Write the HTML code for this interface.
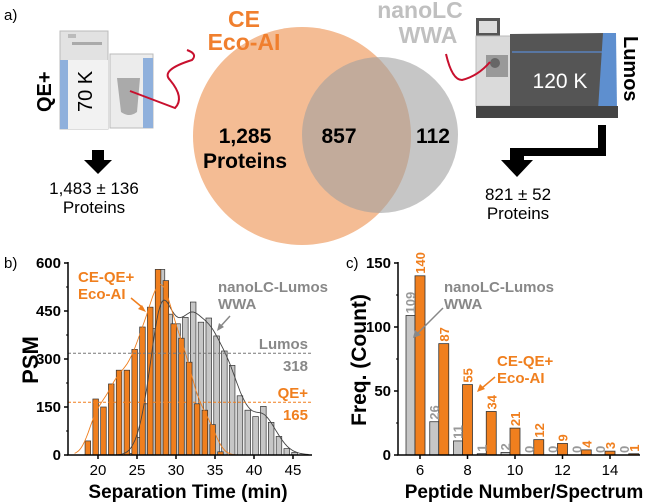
<!DOCTYPE html>
<html><head><meta charset="utf-8">
<style>
body{margin:0;background:#fff;}
svg{display:block;font-family:"Liberation Sans",Arial,sans-serif;}
</style></head><body>
<svg id="fig" width="652" height="502" viewBox="0 0 652 502" xmlns="http://www.w3.org/2000/svg">
<g>
<text x="4" y="20" font-size="15">a)</text>
<circle cx="302" cy="136" r="109" fill="#f4bc94"/>
<circle cx="380" cy="135" r="78" fill="#a0a0a0" fill-opacity="0.6"/>
<text x="244" y="27" text-anchor="middle" font-size="23" font-weight="bold" fill="#f07f2e">CE</text>
<text x="244" y="50" text-anchor="middle" font-size="23" font-weight="bold" fill="#f07f2e">Eco-AI</text>
<text x="420" y="18" text-anchor="middle" font-size="23" font-weight="bold" fill="#c0c0c0">nanoLC</text>
<text x="428" y="43" text-anchor="middle" font-size="23" font-weight="bold" fill="#c0c0c0">WWA</text>
<text x="245" y="143" text-anchor="middle" font-size="21" font-weight="bold">1,285</text>
<text x="245" y="168" text-anchor="middle" font-size="21" font-weight="bold">Proteins</text>
<text x="339" y="143" text-anchor="middle" font-size="21" font-weight="bold">857</text>
<text x="433" y="143" text-anchor="middle" font-size="21" font-weight="bold">112</text>
<g>
<rect x="60" y="31" width="48" height="98" fill="#e2e2e2" stroke="#bbb"/>
<rect x="60" y="60" width="48" height="69" fill="#f2f2f2"/>
<rect x="60" y="60" width="8" height="69" fill="#8fb0dc"/>
<rect x="68" y="34" width="8" height="4" fill="#bbb"/>
<rect x="72" y="42" width="30" height="3" fill="#aaa"/>
<rect x="110" y="54" width="43" height="74" fill="#ececec" stroke="#bbb"/>
<rect x="143" y="58" width="10" height="70" fill="#8fb0dc"/>
<path d="M117 78 L140 78 L137 112 Q129 118 121 112 Z" fill="#aaa"/>
<text transform="translate(92,112) rotate(-90)" font-size="20">70 K</text>
<text transform="translate(51,112) rotate(-90)" font-size="20" font-weight="bold">QE+</text>
<path d="M130 91 L175 108 Q185 98 170 80 Q160 70 192 60 Q198 54 187 50" stroke="#c8102e" stroke-width="2" fill="none"/>
</g>
<path d="M92 150 L104 150 L104 160 L112 160 L98 174 L84 160 L92 160 Z" fill="#000"/>
<text x="94" y="194" text-anchor="middle" font-size="17">1,483 ± 136</text>
<text x="94" y="213" text-anchor="middle" font-size="17">Proteins</text>
<g>
<rect x="476" y="18" width="24" height="18" fill="#555"/>
<rect x="479" y="21" width="18" height="12" fill="#ddd"/>
<rect x="476" y="36" width="46" height="70" fill="#dadada" stroke="#bbb"/>
<rect x="486" y="55" width="22" height="22" fill="#999"/>
<circle cx="495" cy="63" r="5" fill="#666"/>
<path d="M510 34 L605 33 L600 110 L510 108 Z" fill="#555"/>
<line x1="512" y1="52" x2="603" y2="52" stroke="#5b8ad0" stroke-width="1.2"/>
<path d="M603 33 L616 33 L617 110 L598 110 Z" fill="#5e8fcf"/>
<rect x="476" y="106" width="142" height="12" fill="#444"/>
<text x="560" y="88" text-anchor="middle" font-size="21" fill="#fff">120 K</text>
<text transform="translate(624,36) rotate(90)" font-size="20" font-weight="bold">Lumos</text>
<path d="M446 54 Q452 80 462 80 Q478 76 490 62" stroke="#c8102e" stroke-width="2" fill="none"/>
</g>
<path d="M598 125 L606 125 L606 156 L524 156 L524 160 L533 160 L517 177 L501 160 L510 160 L510 148 L598 148 Z" fill="#000"/>
<text x="518" y="200" text-anchor="middle" font-size="17">821 ± 52</text>
<text x="518" y="219" text-anchor="middle" font-size="17">Proteins</text>
</g>
<g id="pb"></g>
<g id="pc"></g>
</svg>
<script>
// Panel b data
const bMinutes = [17,18,19,20,21,22,23,24,25,26,27,28,29,30,31,32,33,34,35,36,37,38,39,40,41,42,43,44,45,46];
const bCE = [0,0,44,175,150,222,265,265,330,400,462,580,545,410,365,290,160,140,95,10,0,0,0,0,0,0,0,0,0,0];
const bLC = [0,0,0,0,0,0,0,5,55,160,395,580,440,410,430,478,415,428,372,325,280,185,140,120,152,102,58,20,8,0];
const bYTicks = [0,150,300,450,600];
const bXTicks = [20,25,30,35,40,45];
const bMeans = [318,165];
// Panel c data
const cCats = [6,7,8,9,10,11,12,13,14,15];
const cCE = [140,87,55,34,21,12,9,4,3,1];
const cLC = [109,26,11,1,2,0,0,0,0,0];
const cYTicks = [0,50,100,150];
const cXTicks = [6,8,10,12,14];

const NS="http://www.w3.org/2000/svg";
function mk(parent,tag,attrs,text){const e=document.createElementNS(NS,tag);for(const k in attrs)e.setAttribute(k,attrs[k]);if(text!==undefined)e.textContent=text;parent.appendChild(e);return e;}
const OR="#f07f1e", GR="#c6c6c6";

// ---- Panel b ----
const pb=document.getElementById('pb');
const bx=v=>98+(v-20)*7.8, by=v=>455-v*(192/600);
let t=mk(pb,'text',{x:4,y:268,'font-size':15},'b)');


bMinutes.forEach((m,i)=>{ if(bLC[i]>0){const r=mk(pb,'rect',{x:bx(m+0.2)-2.8,y:by(bLC[i]),width:5.6,height:455-by(bLC[i]),fill:GR,stroke:'#333','stroke-width':0.7});

}});
bMinutes.forEach((m,i)=>{ if(bCE[i]>0){const r=mk(pb,'rect',{x:bx(m-0.3)-2.8,y:by(bCE[i]),width:5.6,height:455-by(bCE[i]),fill:OR,stroke:'#333','stroke-width':0.7});

}});
function smooth(vals,off){let d='';for(let s=17;s<=47;s+=0.25){let num=0,den=0;bMinutes.forEach((m,i)=>{const w=Math.exp(-Math.pow(s-(m+off),2)/(2*0.9*0.9));num+=w*vals[i];den+=w;});const v=num/den;d+=(d?'L':'M')+bx(s).toFixed(1)+' '+by(v).toFixed(1);}return d;}
let c1=mk(pb,'path',{d:smooth(bLC,0.2),fill:'none',stroke:'#444','stroke-width':0.9});


let c2=mk(pb,'path',{d:smooth(bCE,-0.3),fill:'none',stroke:OR,'stroke-width':0.9});


let m1=mk(pb,'line',{x1:68,x2:312,y1:by(bMeans[0]),y2:by(bMeans[0]),stroke:'#777','stroke-dasharray':'3,2','stroke-width':1});


let m2=mk(pb,'line',{x1:68,x2:312,y1:by(bMeans[1]),y2:by(bMeans[1]),stroke:OR,'stroke-dasharray':'3,2','stroke-width':1});


[['Lumos',308,by(bMeans[0])-4,'#888','lumos-mean-label'],[String(bMeans[0]),308,by(bMeans[0])+18,'#888','lumos-mean-value'],['QE+',308,by(bMeans[1])-4,OR,'qe-mean-label'],[String(bMeans[1]),308,by(bMeans[1])+18,OR,'qe-mean-value']].forEach(a=>{const e=mk(pb,'text',{x:a[1],y:a[2],'text-anchor':'end','font-size':15,'font-weight':'bold',fill:a[3]},a[0]);

});
mk(pb,'path',{d:'M68 262 L68 455 L312 455',fill:'none',stroke:'#000','stroke-width':1.5});
bYTicks.forEach(v=>{mk(pb,'line',{x1:64,x2:68,y1:by(v),y2:by(v),stroke:'#000','stroke-width':1.5});
const e=mk(pb,'text',{x:61,y:by(v)+5,'text-anchor':'end','font-size':15,'font-weight':'bold'},v);

});
for(let v=75;v<600;v+=150) mk(pb,'line',{x1:66,x2:68,y1:by(v),y2:by(v),stroke:'#000','stroke-width':1});
bXTicks.forEach(v=>{mk(pb,'line',{x1:bx(v),x2:bx(v),y1:455,y2:459,stroke:'#000','stroke-width':1.5});
const e=mk(pb,'text',{x:bx(v),y:475,'text-anchor':'middle','font-size':15},v);

});
t=mk(pb,'text',{x:188,y:498,'text-anchor':'middle','font-size':19,'font-weight':'bold'},'Separation Time (min)');


t=mk(pb,'text',{transform:'translate(38,360) rotate(-90)','text-anchor':'middle','font-size':22,'font-weight':'bold'},'PSM');


[['CE-QE+',78,282,OR],['Eco-AI',78,299,OR],['nanoLC-Lumos',218,292,'#888'],['WWA',218,309,'#888']].forEach((a,i)=>{const e=mk(pb,'text',{x:a[1],y:a[2],'font-size':15,'font-weight':'bold',fill:a[3]},a[0]);

});
mk(pb,'path',{d:'M131 298 L143 308',stroke:OR,'stroke-width':1.5});
mk(pb,'path',{d:'M146 312 L138 309 L142 305 Z',fill:OR});
mk(pb,'path',{d:'M230 316 L220 327',stroke:'#888','stroke-width':1.5});
mk(pb,'path',{d:'M217 331 L219 323 L224 327 Z',fill:'#888'});

// ---- Panel c ----
const pc=document.getElementById('pc');
const cx=v=>420+(v-6)*23.75, cy=v=>455-v*(192/150);
t=mk(pc,'text',{x:346,y:268,'font-size':15},'c)');


cCats.forEach((c,i)=>{
 const g=mk(pc,'rect',{x:cx(c-0.4)-4.5,y:cy(cLC[i]),width:9,height:455-cy(cLC[i]),fill:GR,stroke:'#333','stroke-width':0.8});
 
 
 const o=mk(pc,'rect',{x:cx(c)-5,y:cy(cCE[i]),width:10,height:455-cy(cCE[i]),fill:OR,stroke:'#333','stroke-width':0.8});
 
 
 const lg=mk(pc,'text',{transform:`translate(${cx(c-0.4)+4.5},${cy(cLC[i])-2}) rotate(-90)`,'font-size':13,fill:'#999','font-weight':'bold'},cLC[i]);
 
 
 const lo=mk(pc,'text',{transform:`translate(${cx(c)+5},${cy(cCE[i])-2}) rotate(-90)`,'font-size':13,fill:OR,'font-weight':'bold'},cCE[i]);
 
 
});
mk(pc,'path',{d:'M398 262 L398 455 L640 455',fill:'none',stroke:'#000','stroke-width':1.5});
cYTicks.forEach(v=>{mk(pc,'line',{x1:394,x2:398,y1:cy(v),y2:cy(v),stroke:'#000','stroke-width':1.5});
const e=mk(pc,'text',{x:391,y:cy(v)+5,'text-anchor':'end','font-size':15,'font-weight':'bold'},v);

});
for(let v=25;v<150;v+=50) mk(pc,'line',{x1:396,x2:398,y1:cy(v),y2:cy(v),stroke:'#000','stroke-width':1});
cXTicks.forEach(v=>{mk(pc,'line',{x1:cx(v),x2:cx(v),y1:455,y2:459,stroke:'#000','stroke-width':1.5});
const e=mk(pc,'text',{x:cx(v),y:475,'text-anchor':'middle','font-size':15},v);

});
t=mk(pc,'text',{x:524,y:498,'text-anchor':'middle','font-size':19,'font-weight':'bold'},'Peptide Number/Spectrum');


t=mk(pc,'text',{transform:'translate(366,360) rotate(-90)','text-anchor':'middle','font-size':21,'font-weight':'bold'},'Freq. (Count)');


[['nanoLC-Lumos',444,292,'#888'],['WWA',444,309,'#888'],['CE-QE+',497,366,OR],['Eco-AI',497,383,OR]].forEach((a,i)=>{const e=mk(pc,'text',{x:a[1],y:a[2],'font-size':15,'font-weight':'bold',fill:a[3]},a[0]);

});
mk(pc,'path',{d:'M443 308 L417 334',stroke:'#888','stroke-width':1.5});
mk(pc,'path',{d:'M413 338 L415 330 L421 335 Z',fill:'#888'});
mk(pc,'path',{d:'M495 377 L482 388',stroke:OR,'stroke-width':1.5});
mk(pc,'path',{d:'M477 392 L480 384 L485 389 Z',fill:OR});
</script>
</body></html>
